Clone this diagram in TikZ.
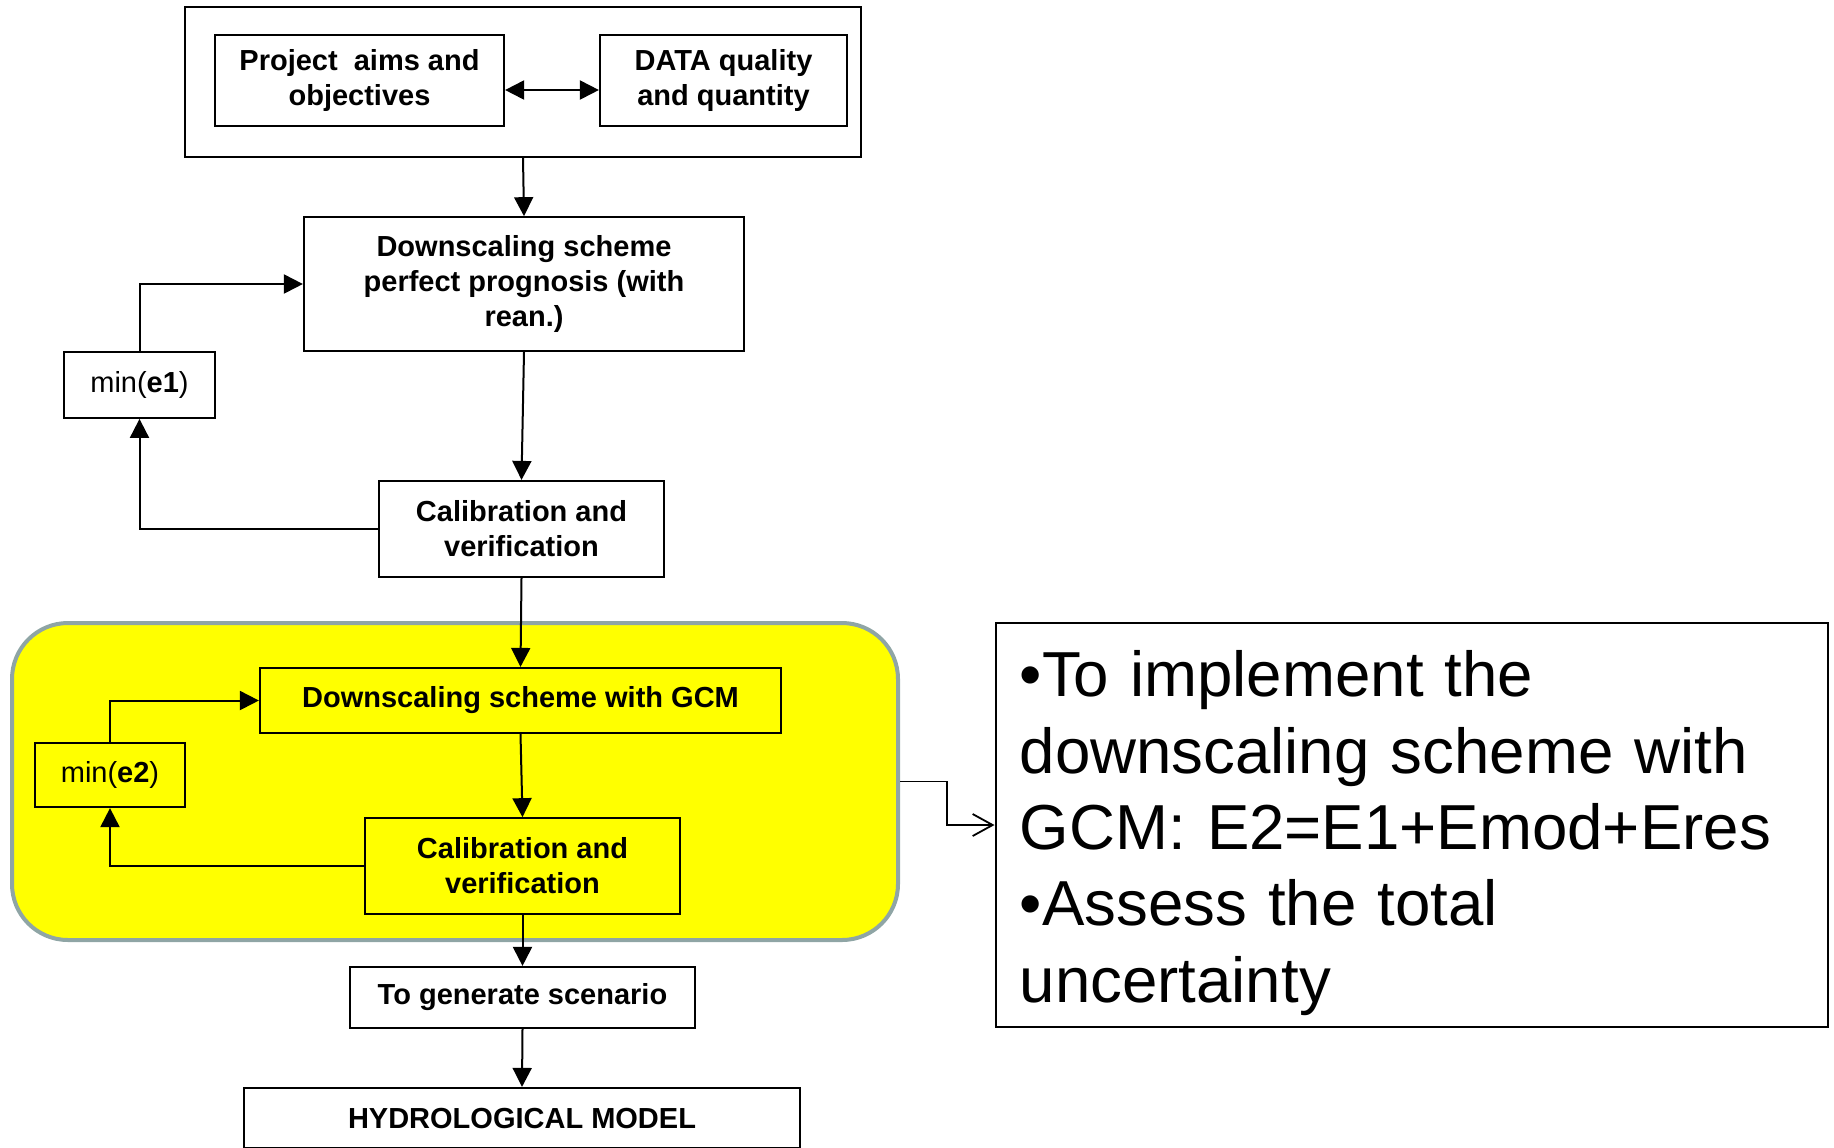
\documentclass[tikz,border=0pt]{standalone}
\usepackage{fontspec}
\setmainfont{Liberation Sans}
\usepackage{tikz}
\usetikzlibrary{arrows.meta}
\usetikzlibrary{calc}

\definecolor{panelgray}{RGB}{143,165,165}
\definecolor{panelyellow}{RGB}{255,255,0}
\tikzset{
  box/.style={draw, line width=1.1pt, align=center, inner sep=0pt,
    font=\fontsize{14.5}{17.6}\selectfont\bfseries},
  minbox/.style={draw, line width=1.1pt, align=center, inner sep=0pt,
    font=\fontsize{14.5}{17.6}\selectfont},
  flow/.style={line width=1pt, -{Triangle[length=9.5pt,width=9.5pt]}},
}

\begin{document}
\begin{tikzpicture}[x=0.5pt, y=-0.5pt]
\useasboundingbox (0,0) rectangle (1834,1147);

% top block
\node[draw, line width=1pt, minimum width=338pt, minimum height=75pt] (top) at (523,82) {};
\node[box, minimum width=144.5pt, minimum height=45.5pt] (aims) at (359.5,80.5) {Project\ \ aims and\\objectives};
\node[box, minimum width=123.5pt, minimum height=45.5pt] (data) at (723.5,80.5) {DATA quality\\and quantity};
\draw[line width=1pt, {Triangle[length=9.5pt,width=9.5pt]}-{Triangle[length=9.5pt,width=9.5pt]}]
  ([yshift=-4.75pt]aims.east) -- ([yshift=-4.75pt]data.west);

% perfect prognosis loop
\node[box, minimum width=220pt, minimum height=66.75pt] (ds1) at (524,284) {Downscaling scheme\\perfect prognosis (with\\rean.)};
\node[minbox, minimum width=75.5pt, minimum height=32.8pt] (mine1) at (139.5,385) {min(\textbf{e1})};
\node[box, minimum width=142.5pt, minimum height=48pt] (cal1) at (521.5,529) {Calibration and\\verification};
\draw[flow] (top.south) -- (ds1.north);
\draw[flow] (ds1.south) -- (cal1.north);
\draw[flow] (cal1.west) -| (mine1.south);
\draw[flow] (mine1.north) |- (ds1.west);

% GCM panel
\node[draw=panelgray, line width=2pt, fill=panelyellow, rounded corners=28pt,
  minimum width=443pt, minimum height=158.5pt] (panel) at (455,781.5) {};
\node[box, minimum width=260.5pt, minimum height=32.5pt] (dsgcm) at (520.5,700.5) {Downscaling scheme with GCM};
\node[minbox, minimum width=75pt, minimum height=32pt] (mine2) at (110,775) {min(\textbf{e2})};
\node[box, minimum width=157.5pt, minimum height=47.75pt] (cal2) at (522.5,866) {Calibration and\\verification};
\draw[flow] (cal1.south) -- (dsgcm.north);
\draw[flow] (dsgcm.south) -- (cal2.north);
\draw[flow] (cal2.west) -| (mine2.south);
\draw[flow] (mine2.north) |- (dsgcm.west);

% outputs
\node[box, minimum width=172.5pt, minimum height=30.5pt] (scen) at (522.5,997.5) {To generate scenario};
\node[box, minimum width=277.75pt, minimum height=30pt] (hydro) at (522,1118) {HYDROLOGICAL MODEL};
\draw[flow] (cal2.south) -- (scen.north);
\draw[flow] (scen.south) -- (hydro.north);

% note
\node[draw, line width=1pt, minimum width=416.25pt, minimum height=202pt] (note) at (1411.75,825) {};
\node[text width=394pt, inner sep=0pt, align=left,
  font=\fontsize{31.8}{38.2}\selectfont] (notetext) at ([xshift=1pt,yshift=-4pt]note.center)
  {•To implement the\\downscaling scheme with\\GCM: E2=E1+Emod+Eres\\•Assess the total\\uncertainty};
\draw[line width=0.9pt, -{Straight Barb[length=10pt,width=11pt]}] (panel.east) -- ++(47,0) |- (note.west);
\end{tikzpicture}
\end{document}
